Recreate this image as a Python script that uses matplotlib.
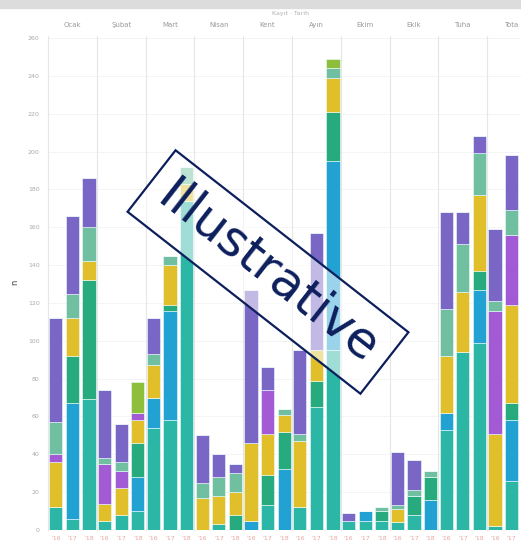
import matplotlib
matplotlib.use("Agg")
from matplotlib import pyplot as plt
import matplotlib.patches as mpatches
import numpy as np

# facet headers (one per month-ish panel), three bars per panel
facets = ["Ocak", "Şubat", "Mart", "Nisan", "Kent", "Ayın", "Ekim", "Ekik", "Tuha", "Tota"]
bar_labels = ["'16", "'17", "'18"]

# stacked segments, bottom to top, 3 values per facet (30 total)
teal    = [12, 6, 69,   5, 8, 10,   54, 58, 174,  0, 3, 0,   0, 13, 0,   12, 65, 95,   5, 5, 5,   4, 8, 0,   53, 94, 99,   2, 26, 90]
blue    = [0, 61, 0,    0, 0, 18,   16, 58, 0,    0, 0, 0,   5, 0, 32,   0, 0, 100,    0, 5, 0,   0, 0, 16,  9, 0, 28,     0, 32, 45]
green   = [0, 25, 63,   0, 0, 18,   0, 3, 0,      0, 0, 8,   0, 16, 20,  0, 14, 26,    0, 0, 5,   0, 10, 12, 0, 0, 10,     0, 9, 20]
yellow  = [24, 20, 10,  9, 14, 12,  17, 21, 9,    17, 15, 12, 41, 22, 9, 35, 16, 18,   0, 0, 0,   7, 0, 0,   30, 32, 40,   49, 52, 35]
magenta = [4, 0, 0,     21, 9, 4,   0, 0, 0,      0, 0, 0,   0, 23, 0,   0, 0, 0,      0, 0, 0,   0, 0, 0,   0, 0, 0,      65, 37, 40]
sage    = [17, 13, 18,  3, 5, 0,    6, 5, 9,      8, 10, 10, 0, 0, 3,    4, 0, 5,      0, 0, 2,   2, 3, 3,   25, 25, 22,   5, 13, 0]
purple  = [55, 41, 26,  36, 20, 0,  19, 0, 0,     25, 12, 5, 81, 12, 0,  44, 62, 0,    4, 0, 0,   28, 16, 0, 51, 17, 9,     38, 29, 0]
lime    = [0, 0, 0,     0, 0, 16,   0, 0, 0,      0, 0, 0,   0, 0, 0,    0, 0, 5,      0, 0, 0,   0, 0, 0,   0, 0, 0,      0, 0, 0]

series = [teal, blue, green, yellow, magenta, sage, purple, lime]
colors = ["#2bb6a6", "#22a2d2", "#27ab7e", "#e0bf2b", "#a25bd4", "#6fbfa0", "#7a67c5", "#8ebf3c"]

W, H = 521, 550
fig = plt.figure(figsize=(W / 100, H / 100), dpi=100)

# grey strip at very top
fig.patches.append(mpatches.Rectangle((0, 1 - 8 / H), 1, 8 / H, transform=fig.transFigure,
                                      color="#dcdcdc", zorder=0))

left0, facet_w = 48, 48.8
bottom_px, top_px = 530, 36
ymax = (bottom_px - top_px) / 1.892

for f, name in enumerate(facets):
    x0 = left0 + f * facet_w
    ax = fig.add_axes([x0 / W, (H - bottom_px) / H, facet_w / W, (bottom_px - top_px) / H])
    x = np.arange(3)
    base = np.zeros(3)
    for vals, c in zip(series, colors):
        v = np.array(vals[f * 3:f * 3 + 3], dtype=float)
        ax.bar(x, v, bottom=base, width=0.8, color=c, edgecolor="#eefcfc", linewidth=0.4, zorder=2)
        base += v
    ax.set_xlim(-0.47, 2.47)
    ax.set_ylim(0, ymax)
    ax.set_yticks(np.arange(0, 261, 20))
    ax.grid(axis="y", color="#f2f2f2", linewidth=0.6, zorder=0)
    ax.set_xticks(x)
    labels = list(bar_labels)
    if f == len(facets) - 1:
        labels[2] = ""  # falls past the right edge of the picture
    ax.set_xticklabels(labels, fontsize=4.5, color="#e9a3a3")
    ax.tick_params(axis="x", length=0, pad=4)
    ax.tick_params(axis="y", length=0)
    for s in ["top", "bottom", "right"]:
        ax.spines[s].set_visible(False)
    ax.spines["left"].set_color("#e6e6e6")
    ax.spines["left"].set_linewidth(0.8)
    if f == 0:
        ax.set_yticklabels([str(t) for t in range(0, 261, 20)], fontsize=4.5, color="#aaaaaa")
        ax.tick_params(axis="y", pad=6)
    else:
        ax.set_yticklabels([])
    ax.text(0.5, 1.0 + 11 / (bottom_px - top_px), name, transform=ax.transAxes,
            ha="center", va="center", fontsize=5, color="#9a9a9a")
    ax.patch.set_alpha(0)

# small title above the middle facets and y label
fig.text(290 / W, 1 - 13 / H, "Kayıt · Tarih", ha="center", va="center", fontsize=4.5, color="#b0b0b0")
fig.text(15 / W, 1 - 282 / H, "n", ha="center", va="center", fontsize=6, color="#444444", rotation=90)

# watermark
fig.text(268 / W, 1 - 272 / H, "Illustrative", ha="center", va="center", rotation=-38,
         fontsize=36, color="#0c1f5c", zorder=10,
         bbox=dict(boxstyle="square,pad=0.3", facecolor=(1, 1, 1, 0.55),
                   edgecolor="#0c1f5c", linewidth=1.6))

fig.savefig("out.png", dpi=100)
